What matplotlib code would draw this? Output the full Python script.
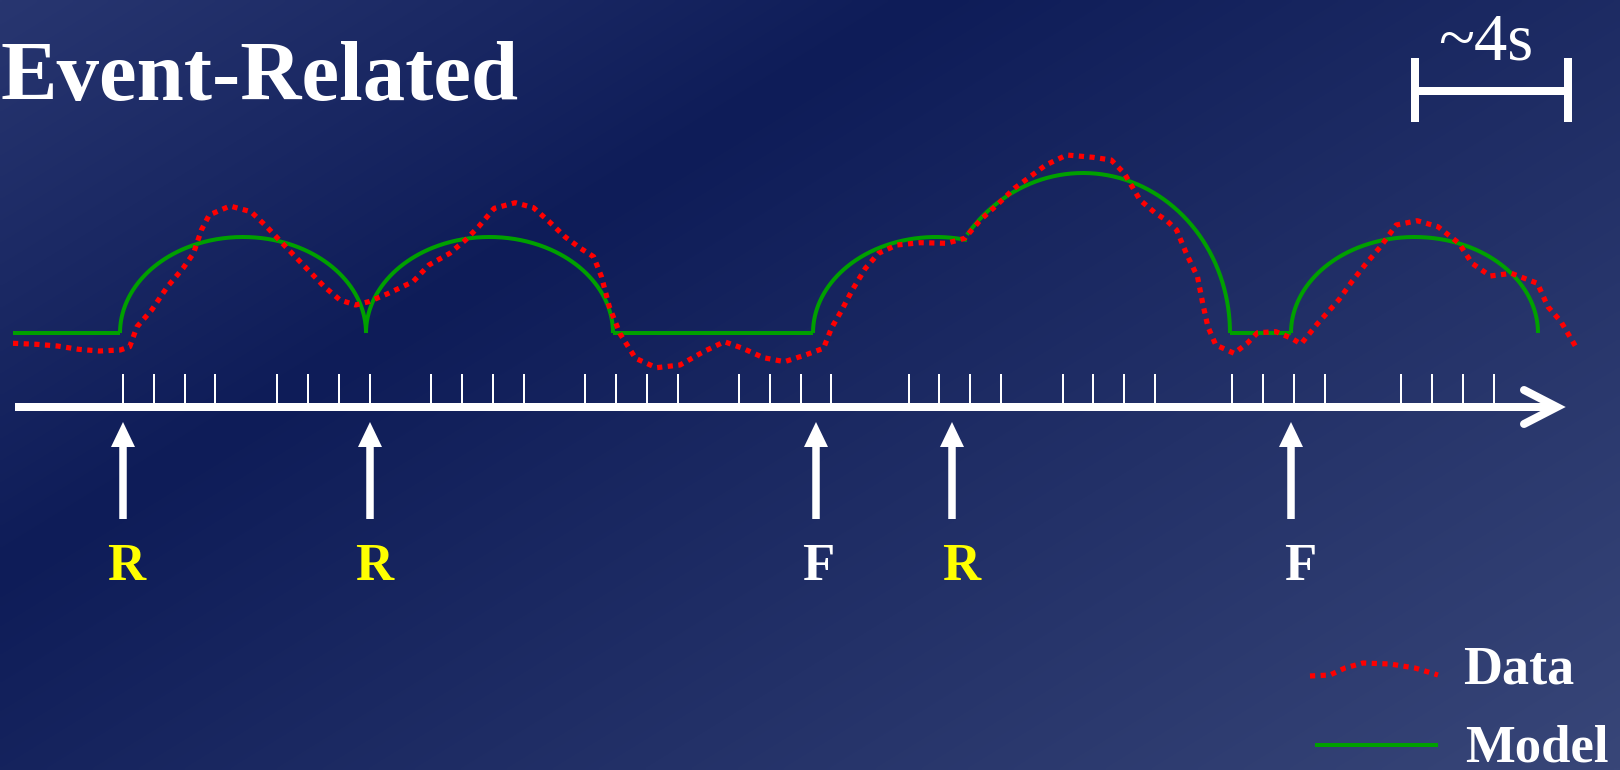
import numpy as np
import matplotlib
matplotlib.use("Agg")
import matplotlib.pyplot as plt

# ---------------- data (pixel coordinates of the slide, y downward) ----------------
title = "Event-Related"
scale_label = "~4s"

tick_x = [123, 154, 185, 215, 277, 308, 339, 370, 431, 462, 493, 524,
          585, 616, 647, 678, 739, 770, 801, 831, 909, 939, 970, 1001,
          1063, 1093, 1124, 1155, 1232, 1263, 1294, 1325, 1401, 1432, 1463, 1494]

event_x = [123, 370, 816, 952, 1291]
event_labels = ["R", "R", "F", "R", "F"]
label_dx = [3, 4, 2, 9, 9]

data_x = [13, 36.6, 57.5, 78.5, 99.4, 120.3, 129.7, 137, 151.7, 167.4, 183, 193.5,
          201.4, 209.2, 230, 251, 266.7, 282.4, 303.3, 324.3, 340, 355.6, 368.7,
          387, 413, 428.9, 449.8, 465.5, 478.6, 494.2, 515.2, 533.5, 549.2, 564.9,
          580.5, 593.6, 601.5, 609.3, 619.8, 635.5, 656.4, 680, 703.5, 724.4,
          742.7, 763.6, 784.5, 805.4, 823.5, 831.4, 841.8, 852.3, 865.4, 878.5,
          896.8, 920.3, 946.4, 964.7, 980.4, 998.7, 1014.4, 1030.1, 1045.8,
          1066.7, 1092.9, 1111.2, 1124.3, 1140, 1155.6, 1166.1, 1176.6, 1187,
          1197.5, 1202.7, 1207.9, 1215.8, 1234.1, 1247.2, 1257.6, 1275.9, 1291.6,
          1301, 1317.8, 1338.7, 1351.8, 1364.9, 1380.5, 1396.2, 1417.2, 1438,
          1459, 1472, 1490.4, 1511.3, 1537.4, 1547.9, 1561, 1576.7]
data_y = [343.3, 344.3, 346, 349.3, 351, 350, 346.7, 326.7, 310, 286.7, 268.3, 253.3,
          230, 215, 206, 211.7, 226.7, 243.3, 265, 286.7, 300, 305, 301.7,
          294, 281.7, 265, 253.3, 240, 226.7, 208.3, 202.7, 207.7, 221.7, 236.7,
          248.3, 256.7, 276.7, 306.7, 333.3, 358.3, 367.7, 365, 351.7, 341.7,
          348.3, 357.7, 361.7, 355, 348.3, 328.3, 310, 290, 268.3, 253.3,
          245, 242.7, 243.3, 238.3, 220, 203.3, 188.3, 176.7, 165,
          155, 157.3, 160, 173.3, 200, 213.3, 220, 230, 255,
          276.7, 303.3, 326.7, 345, 353.3, 343.3, 332.7, 331.7, 338.3,
          344, 323.3, 300, 281.7, 265, 246.7, 225, 220.7, 226.7,
          243.3, 263.3, 276, 273.3, 283.3, 306.7, 321.7, 348.3]

# Model: baseline level, flat stretches and elliptical response arcs
model_base = 333
model_flats = [(13, 120), (613, 813), (1230, 1291)]
# (centre x, half width, height, from x, to x)
model_arcs = [(243, 123, 96, 120, 366),
              (489.5, 123.5, 96, 366, 613),
              (936, 123, 96, 813, 967),
              (1083, 147, 160, 967, 1230),
              (1414.5, 123.5, 96, 1291, 1538)]

legend_data_x = [1310, 1330, 1345, 1363, 1390, 1415, 1438]
legend_data_y = [676, 675, 668, 663, 664, 668, 675]

# ---------------- figure ----------------
W, H = 1620, 770
fig = plt.figure(figsize=(16.2, 7.7), dpi=100)
ax = fig.add_axes([0, 0, 1, 1])
ax.set_xlim(0, W)
ax.set_ylim(H, 0)
ax.axis("off")

# background gradient
u = np.linspace(0, 1, 400)[None, :]
v = np.linspace(0, 1, 200)[:, None]
s = u / 0.57 + v / 0.74
c0 = np.array([40, 54, 112]) / 255
c1 = np.array([14, 28, 88]) / 255
c2 = np.array([56, 70, 120]) / 255
t1 = np.clip(s, 0, 1)[..., None]
t2 = np.clip((s - 1) / 2.1, 0, 1)[..., None]
img = np.where(s[..., None] <= 1, c0 + (c1 - c0) * t1, c1 + (c2 - c1) * t2)
ax.imshow(img, extent=[0, W, H, 0], aspect="auto", zorder=0, interpolation="bilinear")

serif = ["Liberation Serif", "DejaVu Serif"]
px = 72 / 100  # points per pixel

# title
ax.text(1, 100, title, fontsize=61, fontweight="bold", color="white",
        family=serif, ha="left", va="baseline", zorder=5)

# scale bar
ax.plot([1415, 1415], [58, 122], color="white", lw=8 * px, solid_capstyle="butt", zorder=5)
ax.plot([1568, 1568], [58, 122], color="white", lw=8 * px, solid_capstyle="butt", zorder=5)
ax.plot([1415, 1568], [91, 91], color="white", lw=8 * px, solid_capstyle="butt", zorder=5)
ax.text(1486, 60, scale_label, fontsize=48, color="white", family=serif,
        ha="center", va="baseline", zorder=5)

# ticks and time axis
ax.vlines(tick_x, 374, 407, color="white", lw=2 * px, zorder=3)
ax.plot([15, 1552], [407, 407], color="white", lw=8 * px, solid_capstyle="butt", zorder=3)
ax.plot([1524, 1557, 1524], [390, 407, 424], color="white", lw=8 * px,
        solid_capstyle="round", solid_joinstyle="miter", zorder=3)

# model
green = "#00A000"
for x0, x1 in model_flats:
    ax.plot([x0, x1], [model_base, model_base], color=green, lw=4 * px,
            solid_capstyle="butt", zorder=4)
for cx, hw, h, x0, x1 in model_arcs:
    ta = np.arccos(np.clip((x0 - cx) / hw, -1, 1))
    tb = np.arccos(np.clip((x1 - cx) / hw, -1, 1))
    tt = np.linspace(ta, tb, 300)
    ax.plot(cx + hw * np.cos(tt), model_base - h * np.sin(tt), color=green,
            lw=4 * px, solid_capstyle="butt", zorder=4)

# data
red = "#FF0000"
ax.plot(data_x, data_y, color=red, lw=5.2 * px, linestyle=(0, (1.0, 1.05)),
        dash_capstyle="butt", zorder=6)

# event arrows and labels
for x, lab, dx in zip(event_x, event_labels, label_dx):
    ax.arrow(x, 519, 0, -97, width=7.5, head_width=24, head_length=25,
             length_includes_head=True, color="white", lw=0, zorder=5)
    col = "#FFFF00" if lab == "R" else "white"
    ax.text(x + dx, 580, lab, fontsize=38, fontweight="bold", color=col,
            family=serif, ha="center", va="baseline", zorder=5)

# legend
ax.plot(legend_data_x, legend_data_y, color=red, lw=5.2 * px,
        linestyle=(0, (1.0, 1.05)), dash_capstyle="butt", zorder=6)
ax.plot([1315, 1438], [745, 745], color=green, lw=4 * px, solid_capstyle="butt", zorder=6)
ax.text(1463, 683, "Data", fontsize=39, fontweight="bold", color="white",
        family=serif, ha="left", va="baseline", zorder=6)
ax.text(1465, 762, "Model", fontsize=38, fontweight="bold", color="white",
        family=serif, ha="left", va="baseline", zorder=6)

fig.savefig("out.png", dpi=100)
